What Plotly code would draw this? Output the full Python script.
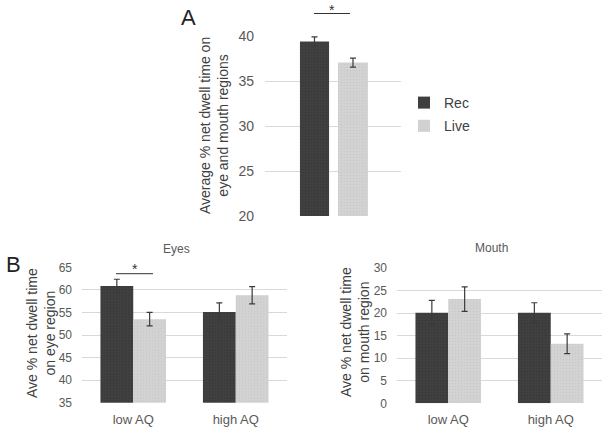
import plotly.graph_objects as go

# ---- data ----
series = ["Rec", "Live"]
a_values = [39.4, 37.05]
a_errors = [0.5, 0.5]

groups = ["low AQ", "high AQ"]
eyes_rec = [60.85, 55.1]
eyes_rec_err = [1.5, 2.0]
eyes_live = [53.5, 58.8]
eyes_live_err = [1.5, 1.9]

mouth_rec = [20.1, 20.1]
mouth_rec_err = [2.7, 2.2]
mouth_live = [23.1, 13.2]
mouth_live_err = [2.7, 2.2]

a_ticks = [20, 25, 30, 35, 40]
eyes_ticks = [35, 40, 45, 50, 55, 60, 65]
mouth_ticks = [0, 5, 10, 15, 20, 25, 30]

# ---- styles ----
W, H = 602, 428
DARK = "#404040"
LIGHT = "#d3d3d3"
GRID = "#d9d9d9"
TXT = "#595959"
FONT = "Liberation Sans"

def px(x):
    return x / W

def py(y):
    return 1 - y / H

pat_dark = dict(shape=".", size=3, solidity=0.25, fgcolor="#2e2e2e")
pat_light = dict(shape=".", size=3, solidity=0.25, fgcolor="#bdbdbd")
err_style = dict(type="data", color="#3a3a3a", thickness=1.2, width=3)

fig = go.Figure()

# Panel A
fig.add_trace(go.Bar(x=["all"], y=[a_values[0]], name=series[0],
                     marker=dict(color=DARK, pattern=pat_dark, line=dict(width=0)),
                     error_y=dict(array=[a_errors[0]], **err_style),
                     offset=-0.243, width=0.214, xaxis="x", yaxis="y",
                     legendgroup="rec"))
fig.add_trace(go.Bar(x=["all"], y=[a_values[1]], name=series[1],
                     marker=dict(color=LIGHT, pattern=pat_light, line=dict(width=0)),
                     error_y=dict(array=[a_errors[1]], **err_style),
                     offset=0.037, width=0.22, xaxis="x", yaxis="y",
                     legendgroup="live"))

# Panel B eyes
fig.add_trace(go.Bar(x=groups, y=eyes_rec, name=series[0], showlegend=False,
                     marker=dict(color=DARK, pattern=pat_dark, line=dict(width=0)),
                     error_y=dict(array=eyes_rec_err, **err_style),
                     xaxis="x2", yaxis="y2"))
fig.add_trace(go.Bar(x=groups, y=eyes_live, name=series[1], showlegend=False,
                     marker=dict(color=LIGHT, pattern=pat_light, line=dict(width=0)),
                     error_y=dict(array=eyes_live_err, **err_style),
                     xaxis="x2", yaxis="y2"))

# Panel B mouth
fig.add_trace(go.Bar(x=groups, y=mouth_rec, name=series[0], showlegend=False,
                     marker=dict(color=DARK, pattern=pat_dark, line=dict(width=0)),
                     error_y=dict(array=mouth_rec_err, **err_style),
                     xaxis="x3", yaxis="y3"))
fig.add_trace(go.Bar(x=groups, y=mouth_live, name=series[1], showlegend=False,
                     marker=dict(color=LIGHT, pattern=pat_light, line=dict(width=0)),
                     error_y=dict(array=mouth_live_err, **err_style),
                     xaxis="x3", yaxis="y3"))

common_y = dict(showgrid=True, gridcolor=GRID, gridwidth=1, zeroline=False,
                showline=False, ticks="", tickfont=dict(family=FONT, size=12, color=TXT),
                fixedrange=True, automargin=False)
common_x = dict(showgrid=False, zeroline=False, showline=False, ticks="",
                tickfont=dict(family=FONT, size=13, color=TXT), automargin=False)

fig.update_layout(
    width=W, height=H,
    margin=dict(l=0, r=0, t=0, b=0, autoexpand=False),
    paper_bgcolor="white", plot_bgcolor="white",
    barmode="group", bargap=0.36, bargroupgap=0,
    font=dict(family=FONT, color=TXT),
    xaxis=dict(common_x, domain=[px(265), px(401)], anchor="y",
               showticklabels=False, range=[-0.5, 0.5]),
    yaxis=dict(common_y, domain=[py(216), py(36)], anchor="x",
               range=[20, 40], tickvals=a_ticks, ticklabelstandoff=10,
               tickfont=dict(family=FONT, size=14, color=TXT)),
    xaxis2=dict(common_x, domain=[px(82), px(287)], anchor="y2", range=[-0.5, 1.5],
                ticklabelstandoff=7),
    yaxis2=dict(common_y, domain=[py(402.7), py(267.3)], anchor="x2",
                range=[35, 65], tickvals=eyes_ticks, ticklabelstandoff=9),
    xaxis3=dict(common_x, domain=[px(397), 1.0], anchor="y3", range=[-0.5, 1.5],
                ticklabelstandoff=7),
    yaxis3=dict(common_y, domain=[py(403.3), py(268)], anchor="x3",
                range=[0, 30], tickvals=mouth_ticks, ticklabelstandoff=9),
    legend=dict(x=px(404), y=py(87), xanchor="left", yanchor="top",
                font=dict(family=FONT, size=14, color="#404040"),
                bgcolor="rgba(0,0,0,0)", tracegroupgap=2,
                traceorder="grouped", itemwidth=30),
)

ann = []
# panel letters
ann.append(dict(text="A", x=px(188), y=py(18), font=dict(size=22, color="#222", family=FONT)))
ann.append(dict(text="B", x=px(13), y=py(264), font=dict(size=22, color="#222", family=FONT)))
# subplot titles
ann.append(dict(text="Eyes", x=px(176), y=py(249), font=dict(size=12, color=TXT, family=FONT)))
ann.append(dict(text="Mouth", x=px(491), y=py(248), font=dict(size=12, color=TXT, family=FONT)))
# y titles
ann.append(dict(text="Average % net dwell time on<br>eye and mouth regions", x=px(214), y=py(126),
                textangle=-90, font=dict(size=14, color="#404040", family=FONT)))
ann.append(dict(text="Ave % net dwell time<br>on eye region", x=px(41), y=py(333),
                textangle=-90, font=dict(size=14, color="#404040", family=FONT)))
ann.append(dict(text="Ave % net dwell time<br>on mouth region", x=px(355), y=py(332),
                textangle=-90, font=dict(size=14, color="#404040", family=FONT)))
# significance stars
ann.append(dict(text="*", x=px(332), y=py(0), yanchor="top", font=dict(size=14, color="#333", family=FONT)))
ann.append(dict(text="*", x=px(135), y=py(259), yanchor="top", font=dict(size=14, color="#333", family=FONT)))
for a in ann:
    a.setdefault("yanchor", "middle")
    a.update(xref="paper", yref="paper", showarrow=False, xanchor="center")
fig.update_layout(annotations=ann)

fig.update_layout(shapes=[
    dict(type="line", xref="paper", yref="paper", x0=px(314), x1=px(350), y0=py(13.5), y1=py(13.5),
         line=dict(color="#333", width=1)),
    dict(type="line", xref="paper", yref="paper", x0=px(116), x1=px(153), y0=py(273.7), y1=py(273.7),
         line=dict(color="#333", width=1)),
])

fig.write_html("out.html", config={"displayModeBar": False, "staticPlot": True},
               post_script="document.body.style.margin='0';document.body.style.overflow='hidden';")
